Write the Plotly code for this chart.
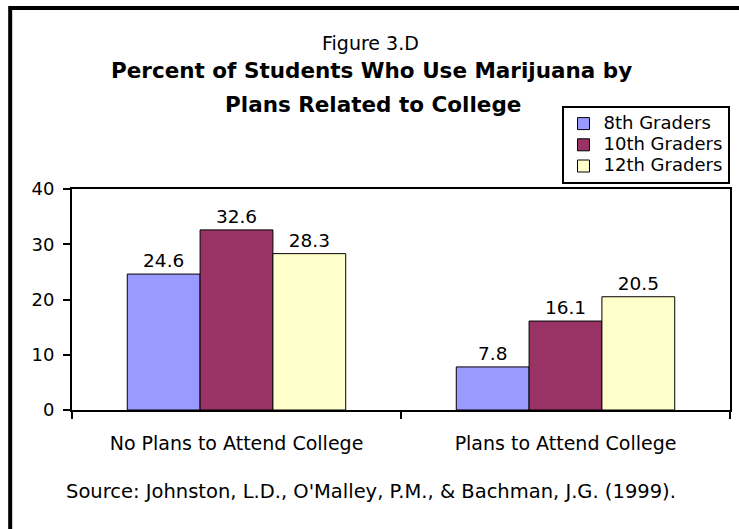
import plotly.graph_objects as go

categories = ["No Plans to Attend College", "Plans to Attend College"]
series_names = ["8th Graders", "10th Graders", "12th Graders"]
grade8 = [24.6, 7.8]
grade10 = [32.6, 16.1]
grade12 = [28.3, 20.5]
series_values = [grade8, grade10, grade12]
series_colors = ["#9999FF", "#993366", "#FFFFCC"]
y_ticks = [0, 10, 20, 30, 40]

FONT = "DejaVu Sans, Arial, sans-serif"

W, H = 739, 529
L, R, T, B = 72, 7, 189, 119
PW = W - L - R
PH = H - T - B

def px_x(px):
    return (px - L) / PW

def px_y(py):
    return (H - B - py) / PH

fig = go.Figure()
for name, vals, col in zip(series_names, series_values, series_colors):
    fig.add_trace(go.Bar(
        name=f"<span style='font-size:18px'>{name}</span>",
        x=categories, y=vals,
        marker=dict(color=col, line=dict(color="black", width=1)),
        text=[f"{v:.1f}" for v in vals], textposition="outside",
        textfont=dict(family=FONT, size=18.5, color="black"),
        cliponaxis=False,
    ))

fig.update_layout(
    width=W, height=H,
    margin=dict(l=L, r=R, t=T, b=B, pad=0),
    paper_bgcolor="white", plot_bgcolor="white",
    barmode="group", bargap=0.336, bargroupgap=0,
    font=dict(family=FONT, size=18, color="black"),
    showlegend=True,
    legend=dict(
        x=px_x(563), y=px_y(106), xanchor="left", yanchor="top",
        bordercolor="black", borderwidth=2, bgcolor="white",
        font=dict(family=FONT, size=14, color="black"),
        traceorder="normal",
    ),
    xaxis=dict(
        showline=True, linecolor="black", linewidth=2, mirror=True,
        ticks="outside", ticklen=7, tickwidth=2, tickcolor="black",
        tickson="boundaries", showgrid=False, ticklabelstandoff=15,
        tickfont=dict(family=FONT, size=19, color="black"),
    ),
    yaxis=dict(
        range=[0, 40], tickvals=y_ticks,
        showline=True, linecolor="black", linewidth=2, mirror=True,
        ticks="outside", ticklen=7, tickwidth=2, tickcolor="black",
        showgrid=False, zeroline=False, ticklabelstandoff=5,
        tickfont=dict(family=FONT, size=18, color="black"),
    ),
    shapes=[dict(
        type="rect", xref="paper", yref="paper",
        x0=px_x(10), x1=px_x(W + 50), y0=px_y(H + 50), y1=px_y(8),
        line=dict(color="black", width=4), fillcolor="rgba(0,0,0,0)",
        layer="above",
    )],
    annotations=[
        dict(text="Figure 3.D", xref="paper", yref="paper",
             x=px_x(371), y=px_y(43), xanchor="center", yanchor="middle",
             showarrow=False, font=dict(family=FONT, size=19, color="black")),
        dict(text="<b>Percent of Students Who Use Marijuana by</b>", xref="paper", yref="paper",
             x=px_x(372), y=px_y(71), xanchor="center", yanchor="middle",
             showarrow=False, font=dict(family=FONT, size=21.5, color="black")),
        dict(text="<b>Plans Related to College</b>", xref="paper", yref="paper",
             x=px_x(374), y=px_y(104), xanchor="center", yanchor="middle",
             showarrow=False, font=dict(family=FONT, size=21.5, color="black")),
        dict(text="Source: Johnston, L.D., O'Malley, P.M., & Bachman, J.G. (1999).",
             xref="paper", yref="paper",
             x=px_x(372), y=px_y(491), xanchor="center", yanchor="middle",
             showarrow=False, font=dict(family=FONT, size=19.5, color="black")),
    ],
)

fig.write_html(
    "out.html",
    config={"displayModeBar": False},
    post_script="document.body.style.margin='0';document.body.style.overflow='hidden';",
)
